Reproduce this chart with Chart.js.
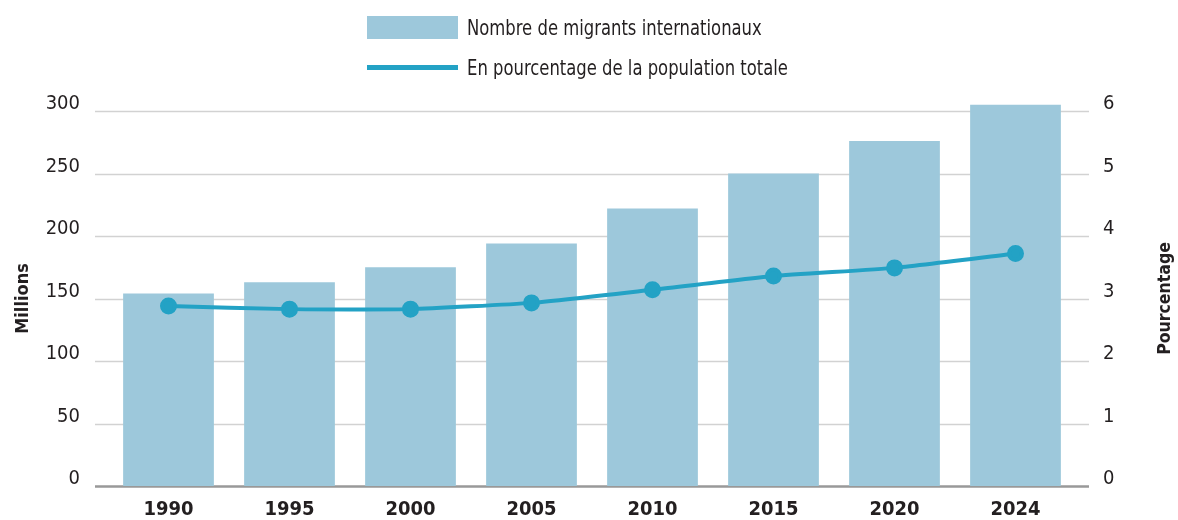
<!DOCTYPE html>
<html lang="fr">
<head>
<meta charset="utf-8">
<script src="https://cdn.jsdelivr.net/npm/chart.js@4"></script>
<style>
  html, body { margin: 0; padding: 0; background: #fff; overflow: hidden; }
  #wrap { position: relative; width: 1178px; height: 520px; }
  #legend { position: absolute; left: 367px; top: 7.5px; font-family: 'DejaVu Sans Condensed', 'DejaVu Sans', sans-serif; font-size: 22px; color: #231f20; }
  .row { display: flex; align-items: center; height: 40px; }
  .row span { display: inline-block; transform: scaleX(0.83); transform-origin: left center; white-space: nowrap; }
  .sw { width: 91px; margin-right: 9px; flex: none; }
  .box { height: 23px; background: #9dc8db; }
  .ln { height: 5px; background: #23a2c5; }
</style>
</head>
<body>
<div id="wrap">
  <canvas id="chart" width="1178" height="520"></canvas>
  <div id="legend">
    <div class="row"><div class="sw box"></div><span>Nombre de migrants internationaux</span></div>
    <div class="row"><div class="sw ln"></div><span>En pourcentage de la population totale</span></div>
  </div>
</div>
<script>
const years = ['1990', '1995', '2000', '2005', '2010', '2015', '2020', '2024'];
const migrants = [154, 163, 175, 194, 222, 250, 276, 305];
const percent = [2.88, 2.83, 2.83, 2.93, 3.14, 3.36, 3.49, 3.72];
const leftTicks = [0, 50, 100, 150, 200, 250, 300];

const font = "'DejaVu Sans Condensed', 'DejaVu Sans', sans-serif";
const ink = '#231f20';

// grid lines reach a bit past the bars on both sides, plus the right title
const extras = {
  id: 'extras',
  beforeDatasetsDraw(chart) {
    const { ctx, chartArea: a, scales } = chart;
    const y = scales.y;
    ctx.save();
    y.ticks.forEach(t => {
      const py = Math.round(y.getPixelForValue(t.value)) + 0.5;
      ctx.strokeStyle = t.value === 0 ? '#999' : '#d2d2d2';
      ctx.lineWidth = t.value === 0 ? 2.5 : 1.5;
      ctx.beginPath();
      ctx.moveTo(a.left - 13, py);
      ctx.lineTo(a.right + 13, py);
      ctx.stroke();
    });
    ctx.restore();
  },
  afterDraw(chart) {
    const { ctx, chartArea: a } = chart;
    ctx.save();
    ctx.translate(1165, (a.top + a.bottom) / 2);
    ctx.rotate(-Math.PI / 2);
    ctx.font = 'bold 17.5px ' + font;
    ctx.fillStyle = ink;
    ctx.textAlign = 'center';
    ctx.textBaseline = 'middle';
    ctx.fillText('Pourcentage', 0, 0);
    ctx.restore();
  }
};

const fixY = w => s => { s.width = w; s.paddingTop = 0; s.paddingBottom = 0; };

new Chart(document.getElementById('chart'), {
  data: {
    labels: years,
    datasets: [
      {
        type: 'line', label: 'En pourcentage de la population totale', data: percent,
        yAxisID: 'y1', order: 0,
        borderColor: '#23a2c5', backgroundColor: '#23a2c5', borderWidth: 4,
        pointRadius: 6.5, pointHoverRadius: 6.5, tension: 0.15
      },
      {
        type: 'bar', label: 'Nombre de migrants internationaux', data: migrants,
        yAxisID: 'y', order: 1, clip: false,
        backgroundColor: '#9dc8db', categoryPercentage: 1, barPercentage: 0.75
      }
    ]
  },
  options: {
    responsive: false,
    animation: false,
    layout: { padding: { top: 111, left: 0, right: 0, bottom: 0 } },
    plugins: { legend: { display: false }, tooltip: { enabled: false } },
    scales: {
      x: {
        grid: { display: false, drawTicks: false }, border: { display: false },
        ticks: { color: ink, padding: 12, font: { family: font, size: 20, weight: 'bold' } },
        afterFit(s) { s.height = 34; }
      },
      y: {
        position: 'left', min: 0, max: 300,
        afterBuildTicks(s) { s.ticks = leftTicks.map(v => ({ value: v })); },
        grid: { display: false }, border: { display: false },
        ticks: { color: ink, padding: 20, labelOffset: -7, font: { family: font, size: 20 } },
        title: { display: true, text: 'Millions', color: ink, padding: { top: 13, bottom: 0 }, font: { family: font, size: 18, weight: 'bold' } },
        afterFit: fixY(108)
      },
      y1: {
        position: 'right', min: 0, max: 6,
        ticks: { stepSize: 1, color: ink, padding: 19, labelOffset: -7, font: { family: font, size: 20 } },
        grid: { display: false }, border: { display: false },
        afterFit: fixY(102)
      }
    }
  },
  plugins: [extras]
});
</script>
</body>
</html>
